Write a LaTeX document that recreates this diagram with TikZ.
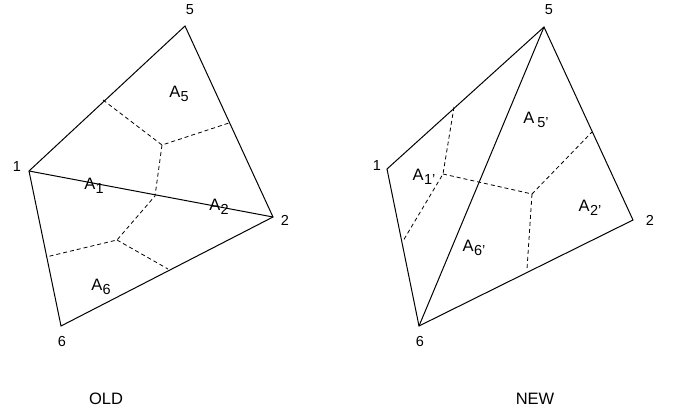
\documentclass[tikz,border=0pt]{standalone}
\usepackage{fontspec}
\setmainfont{Liberation Sans}
\usetikzlibrary{positioning}
\newcommand{\ar}[1]{A\kern0.3pt\raisebox{-0.4ex}{\fontsize{14.5}{14.5}\selectfont #1}}

\begin{document}
\begin{tikzpicture}[x=1pt,y=-1pt,line width=1pt,
  edge/.style={black},
  cell/.style={black,dash pattern=on 4pt off 3pt,line width=0.8pt},
  lbl/.style={font=\fontsize{14.5}{14.5}\selectfont,inner sep=0pt},
  area/.style={font=\fontsize{16.5}{16.5}\selectfont,inner sep=0pt}]
\useasboundingbox (0,0) rectangle (673,418);
% ---- old mesh
\coordinate (o1) at (29,171);
\coordinate (o5) at (185,26);
\coordinate (o2) at (273,217);
\coordinate (o6) at (61,326);
\draw[edge] (o1) -- (o5) -- (o2) -- (o6) -- cycle;
\draw[edge] (o1) -- (o2);
% cell boundaries
\coordinate (oa) at (162,145);
\coordinate (ob) at (117,240);
\coordinate (oc) at (155,196);
\draw[cell] (103,100) -- (oa) -- (229,123);
\draw[cell] (oa) -- (oc) -- (ob) -- (46,257);
\draw[cell] (ob) -- (168,269);
\node[lbl] (l1) at (17,167) {1};
\node[lbl] (l5) at (190,10) {5};
\node[lbl] (l2) at (285,220) {2};
\node[lbl] (l6) at (62,342) {6};
\node[area] (oA5) at (179,94) {\ar{5}};
\node[area] (oA1) at (94,186) {\ar{1}};
\node[area] (oA2) at (219,207) {\ar{2}};
\node[area] (oA6) at (101,287) {\ar{6}};
\node[area] (old) at (106,399) {OLD};
% ---- new mesh
\coordinate (n1) at (387,169);
\coordinate (n5) at (544,27);
\coordinate (n2) at (633,220);
\coordinate (n6) at (419,326);
\draw[edge] (n1) -- (n5) -- (n2) -- (n6) -- cycle;
\draw[edge] (n6) -- (n5);
% cell boundaries
\coordinate (na) at (443,174);
\coordinate (nb) at (532,194);
\draw[cell] (454,107) -- (na) -- (403,241);
\draw[cell] (na) -- (nb) -- (592,132);
\draw[cell] (nb) -- (527,269);
\node[lbl] (m1) at (377,166) {1};
\node[lbl] (m5) at (549,10) {5};
\node[lbl] (m2) at (650,220) {2};
\node[lbl] (m6) at (420,342) {6};
\node[area] (nA1) at (424,177) {\ar{1'}};
\node[area] (nA5) at (536,120) {A\kern3pt\raisebox{-0.4ex}{\fontsize{14.5}{14.5}\selectfont 5'}};
\node[area] (nA2) at (590,208) {\ar{2'}};
\node[area] (nA6) at (474,248) {\ar{6'}};
\node[area] (new) at (535,399) {NEW};
\end{tikzpicture}
\end{document}
